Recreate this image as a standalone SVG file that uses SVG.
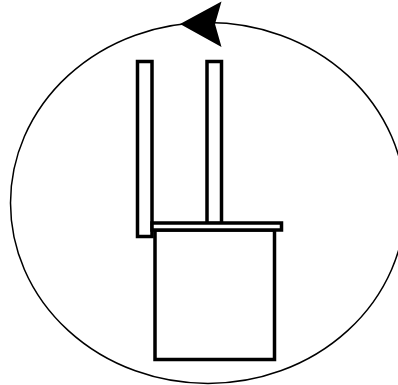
<svg xmlns="http://www.w3.org/2000/svg" width="398" height="385" viewBox="0 0 398 385">
<style>
.part{fill:#fff;stroke:#000;stroke-width:3.5}
.loop{fill:none;stroke:#000;stroke-width:1.5}
</style>
<rect width="398" height="385" fill="#fff"/>
<g id="connectors">
<ellipse class="loop" cx="208" cy="203" rx="197.500" ry="180.500"/>
<polygon points="180,24 221.500,1.500 215,24 221.500,47" fill="#000"/>
</g>
<g id="post-left"><rect class="part" x="137.500" y="61.500" width="14.500" height="175"/></g>
<g id="post-right"><rect class="part" x="207" y="61.500" width="14.500" height="162"/></g>
<g id="body"><rect class="part" x="155" y="230" width="119.500" height="129.500"/></g>
<g id="lid"><rect class="part" x="152" y="223" width="129.500" height="7"/></g>
</svg>
